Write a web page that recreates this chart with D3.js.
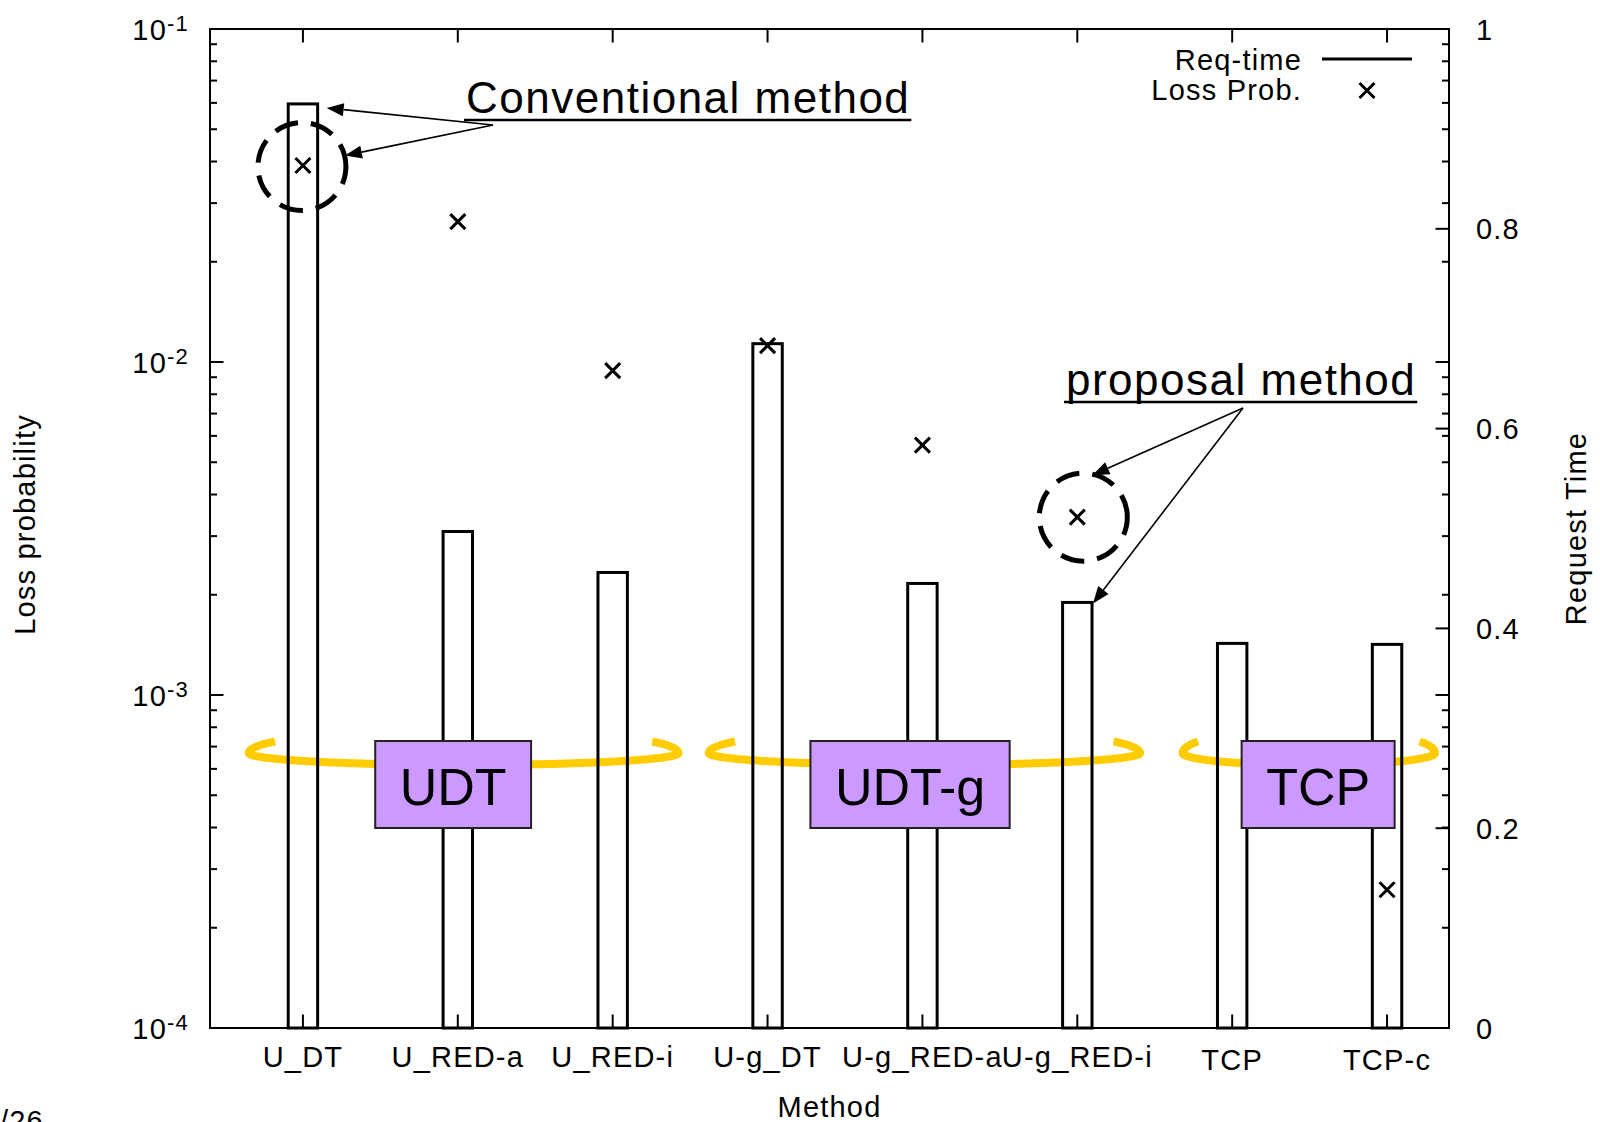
<!DOCTYPE html>
<html>
<head>
<meta charset="utf-8">
<script src="https://cdn.jsdelivr.net/npm/d3@7"></script>
<style>
  html, body { margin: 0; padding: 0; background: #fff; }
  svg { display: block; }
  text { font-family: "Liberation Sans", Arial, Helvetica, sans-serif; fill: #000; }
</style>
</head>
<body>
<svg id="chart" width="1600" height="1122"></svg>
<script>
// ---- data ----
const categories = ["U_DT", "U_RED-a", "U_RED-i", "U-g_DT", "U-g_RED-a", "U-g_RED-i", "TCP", "TCP-c"];
// request time (right axis, bars)
const reqTime = [0.925, 0.497, 0.456, 0.685, 0.445, 0.426, 0.385, 0.384];
// loss probability (left log axis, crosses); TCP has no loss
const lossProb = [0.0389, 0.0264, 0.00942, 0.0112, 0.00563, 0.00342, null, 0.00026];
const lossTicks = [1e-4, 1e-3, 1e-2, 1e-1];
const lossTickExp = ["-4", "-3", "-2", "-1"];
const timeTicks = [0, 0.2, 0.4, 0.6, 0.8, 1];
const timeTickLabels = ["0", "0.2", "0.4", "0.6", "0.8", "1"];
const groupLabels = ["UDT", "UDT-g", "TCP"];
const groupFirst = [0, 3, 6];
const groupLast = [2, 5, 7];
const legendLabels = ["Req-time", "Loss Prob."];

// ---- layout ----
const L = 210, R = 1449, T = 29, B = 1028;
const svg = d3.select("#chart");
const x = d3.scaleLinear().domain([-0.6, 7.4]).range([L, R]);
const yLoss = d3.scaleLog().domain([1e-4, 1e-1]).range([B, T]);
const yTime = d3.scaleLinear().domain([0, 1]).range([B, T]);
const FS = 29, LS = 1.2;   // tick/axis font size and letter spacing
const barW = x(0.19) - x(0);

// ---- yellow group rings (drawn behind the bars) ----
const ringPad = [[0.35, 0.425], [0.38, 0.405], [0.32, 0.31]];
const ringY = 753;
const ringLine = d3.line().curve(d3.curveCatmullRom);
groupLabels.forEach((g, i) => {
  const xl = x(groupFirst[i]) - x(ringPad[i][0]) + x(0);
  const xr = x(groupLast[i]) + x(ringPad[i][1]) - x(0);
  const cx = (xl + xr) / 2, rx = (xr - xl) / 2;
  const pts = [];
  const hook = 0.5;
  // back hook on the left, rising from the tip
  for (let t = Math.PI + hook; t >= Math.PI; t -= 0.05) pts.push([cx + rx * Math.cos(t), ringY + 24 * Math.sin(t)]);
  // front half of the ring
  for (let t = Math.PI; t >= 0; t -= 0.02) pts.push([cx + rx * Math.cos(t), ringY + 12 * Math.sin(t)]);
  for (let t = 0; t >= -hook; t -= 0.05) pts.push([cx + rx * Math.cos(t), ringY + 24 * Math.sin(t)]);
  svg.append("path").attr("d", ringLine(pts))
    .attr("fill", "none").attr("stroke", "#ffcc00").attr("stroke-width", 8)
    .attr("stroke-linecap", "butt");
});

// ---- bars (request time) ----
svg.append("g").selectAll("rect").data(reqTime).join("rect")
  .attr("x", (d, i) => x(i) - barW / 2)
  .attr("y", d => yTime(d))
  .attr("width", barW)
  .attr("height", d => yTime(0) - yTime(d))
  .attr("fill", "none").attr("stroke", "#000").attr("stroke-width", 3);

// ---- axes frame and ticks ----
const ax = svg.append("g").attr("stroke", "#000").attr("stroke-width", 2);
ax.append("rect").attr("x", L).attr("y", T).attr("width", R - L).attr("height", B - T).attr("fill", "none");
const major = 13.5, minor = 7;
// x ticks, bottom and mirrored top
categories.forEach((c, i) => {
  ax.append("line").attr("x1", x(i)).attr("x2", x(i)).attr("y1", B).attr("y2", B - major);
  ax.append("line").attr("x1", x(i)).attr("x2", x(i)).attr("y1", T).attr("y2", T + major);
});
// log ticks, left and mirrored right
lossTicks.forEach((v, k) => {
  ax.append("line").attr("x1", L).attr("x2", L + major).attr("y1", yLoss(v)).attr("y2", yLoss(v));
  ax.append("line").attr("x1", R).attr("x2", R - major).attr("y1", yLoss(v)).attr("y2", yLoss(v));
  if (k < lossTicks.length - 1) {
    for (let m = 2; m <= 9; m++) {
      const yy = yLoss(v * m);
      ax.append("line").attr("x1", L).attr("x2", L + minor).attr("y1", yy).attr("y2", yy);
      ax.append("line").attr("x1", R).attr("x2", R - minor).attr("y1", yy).attr("y2", yy);
    }
  }
});
// right linear ticks
timeTicks.forEach(v => {
  ax.append("line").attr("x1", R).attr("x2", R - major).attr("y1", yTime(v)).attr("y2", yTime(v));
});

// ---- tick labels ----
const lt = svg.append("g").attr("font-size", FS).attr("letter-spacing", LS);
lossTicks.forEach((v, k) => {
  const t = lt.append("text").attr("x", 189).attr("y", yLoss(v) + 11).attr("text-anchor", "end");
  t.append("tspan").text("10");
  t.append("tspan").attr("font-size", 22).attr("dy", -9).text(lossTickExp[k]);
});
timeTicks.forEach((v, k) => {
  lt.append("text").attr("x", 1476).attr("y", yTime(v) + 10.5).text(timeTickLabels[k]);
});
categories.forEach((c, i) => {
  lt.append("text").attr("x", x(i)).attr("y", c.startsWith("TCP") ? 1070 : 1067)
    .attr("text-anchor", "middle").text(c);
});

// ---- axis titles ----
const at = svg.append("g").attr("font-size", FS).attr("letter-spacing", LS);
at.append("text").attr("transform", `translate(35,${(T + B) / 2 - 4}) rotate(-90)`)
  .attr("text-anchor", "middle").text("Loss probability");
at.append("text").attr("transform", `translate(1586,${(T + B) / 2}) rotate(-90)`)
  .attr("text-anchor", "middle").text("Request Time");
at.append("text").attr("x", (L + R) / 2).attr("y", 1117).attr("text-anchor", "middle").text("Method");
at.append("text").attr("x", 0).attr("y", 1131).text("/26");

// ---- loss probability crosses ----
const cross = "M-7.5,-7.5L7.5,7.5M-7.5,7.5L7.5,-7.5";
svg.append("g").selectAll("path")
  .data(lossProb.map((v, i) => ({ v, i })).filter(d => d.v != null))
  .join("path")
  .attr("d", cross)
  .attr("transform", d => `translate(${x(d.i)},${yLoss(d.v)})`)
  .attr("fill", "none").attr("stroke", "#000").attr("stroke-width", 3);

// ---- legend ----
const lg = svg.append("g").attr("font-size", FS).attr("letter-spacing", LS);
lg.append("text").attr("x", 1302).attr("y", 70).attr("text-anchor", "end").text(legendLabels[0]);
lg.append("text").attr("x", 1302).attr("y", 100).attr("text-anchor", "end").text(legendLabels[1]);
lg.append("line").attr("x1", 1322).attr("x2", 1412).attr("y1", 59).attr("y2", 59)
  .attr("stroke", "#000").attr("stroke-width", 3);
lg.append("path").attr("d", cross).attr("transform", "translate(1367,90.5)")
  .attr("fill", "none").attr("stroke", "#000").attr("stroke-width", 3);

// ---- group boxes ----
const boxCenter = [0.97, 3.92, 6.555];
groupLabels.forEach((g, i) => {
  const bx = x(boxCenter[i]);
  const t = svg.append("text").attr("x", bx).attr("y", 805).attr("text-anchor", "middle")
    .attr("font-size", 52).text(g);
  const w = t.node().getComputedTextLength() + 49;
  svg.insert("rect", () => t.node())
    .attr("x", bx - w / 2).attr("y", 741).attr("width", w).attr("height", 87)
    .attr("fill", "#cc99ff").attr("stroke", "#222").attr("stroke-width", 2);
});

// ---- annotations ----
function ring(cx, cy) {
  svg.append("circle").attr("cx", cx).attr("cy", cy).attr("r", 44)
    .attr("fill", "none").attr("stroke", "#000").attr("stroke-width", 5)
    .attr("stroke-dasharray", "24,13").attr("stroke-dashoffset", 6);
}
function arrow(x0, y0, x1, y1) {
  const a = Math.atan2(y1 - y0, x1 - x0), len = 17, hw = 6.5;
  const bx = x1 - len * Math.cos(a), by = y1 - len * Math.sin(a);
  svg.append("line").attr("x1", x0).attr("y1", y0).attr("x2", bx).attr("y2", by)
    .attr("stroke", "#000").attr("stroke-width", 1.6);
  const px = -Math.sin(a) * hw, py = Math.cos(a) * hw;
  svg.append("path")
    .attr("d", `M${x1},${y1}L${bx + px},${by + py}L${bx - px},${by - py}Z`)
    .attr("fill", "#000");
}
function underlined(label, x0, y0) {
  const t = svg.append("text").attr("x", x0).attr("y", y0).attr("font-size", 44)
    .attr("letter-spacing", 1.5).text(label);
  const w = t.node().getComputedTextLength();
  svg.append("line").attr("x1", x0 - 2).attr("x2", x0 + w + 1).attr("y1", y0 + 7).attr("y2", y0 + 7)
    .attr("stroke", "#000").attr("stroke-width", 2.5);
}

// conventional method: U_DT
const c1x = x(0) - 1, c1y = yLoss(lossProb[0]) + 1;
ring(c1x, c1y);
underlined("Conventional method", 466, 113);
arrow(493, 125, x(0) + barW / 2 + 9, yTime(reqTime[0]) + 4);
arrow(493, 125, c1x + 43, c1y - 11);

// proposal method: U-g_RED-i
const c2x = x(5) + 6, c2y = yLoss(lossProb[5]);
ring(c2x, c2y);
underlined("proposal method", 1066, 395);
arrow(1243, 408, c2x + 9, c2y - 42);
arrow(1243, 408, x(5) + barW / 2 + 1, yTime(reqTime[5]) + 1);
</script>
</body>
</html>
